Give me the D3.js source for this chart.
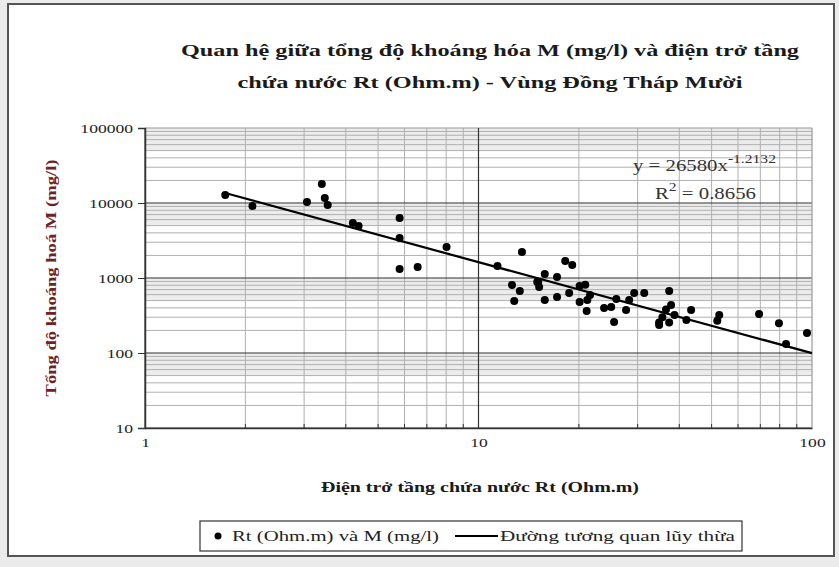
<!DOCTYPE html>
<html>
<head>
<meta charset="utf-8">
<script src="https://cdn.jsdelivr.net/npm/d3@7"></script>
<style>
  body { margin: 0; background: #ebebeb; }
  svg { display: block; }
  svg text { font-family: "Liberation Serif", "DejaVu Serif", serif; }
</style>
</head>
<body>
<svg id="chart" width="839" height="567"></svg>
<script>
// Rt (Ohm.m) values
const rt = [1.74, 2.10, 3.39, 3.06, 3.46, 3.53, 4.20, 4.37, 5.80, 5.80, 8.02, 5.80, 6.57,
  13.5, 11.4, 18.2, 19.1, 12.6, 13.3, 12.8, 15.8, 15.0, 15.2, 15.8, 17.2, 17.2, 18.7,
  20.1, 20.9, 20.1, 21.2, 21.1, 21.6, 15.1, 23.8, 25.0, 25.5, 25.9, 27.7, 28.3, 29.3,
  31.4, 37.3, 34.8, 35.6, 36.5, 37.8, 37.3, 38.7, 43.4, 42.0, 34.8, 52.7, 52.0, 69.4,
  79.6, 96.6, 83.6];
// M (mg/l) values
const mg = [12800, 9100, 17900, 10300, 11700, 9400, 5400, 4940, 6300, 3410, 2590, 1320, 1400,
  2220, 1445, 1690, 1490, 807, 671, 494, 1130, 885, 760, 509, 1030, 558, 631,
  780, 815, 479, 509, 363, 593, 885, 398, 410, 259, 525, 374, 509, 631,
  631, 671, 255, 300, 380, 437, 255, 320, 374, 275, 236, 321, 270, 331,
  250, 185, 132];

const xTicks = [1, 10, 100];
const yTicks = [10, 100, 1000, 10000, 100000];
const fitA = 26580, fitB = -1.2132;
const fitRange = [1.74, 100];

const titleLines = ["Quan hệ giữa tổng độ  khoáng hóa M (mg/l) và điện trở tầng",
                    "chứa nước Rt (Ohm.m) - Vùng Đồng Tháp Mười"];
const xTitle = "Điện trở tầng chứa nước Rt (Ohm.m)";
const yTitle = "Tổng độ khoáng hoá M (mg/l)";
const legendLabels = ["Rt (Ohm.m) và M (mg/l)", "Đường tương quan lũy thừa"];

const svg = d3.select("#chart");
const margin = {top: 128, right: 27, bottom: 139, left: 145};
const W = 839, H = 567;

// outer frame
svg.append("rect")
    .attr("x", 8).attr("y", 4).attr("width", 826).attr("height", 552)
    .attr("fill", "white").attr("stroke", "#555").attr("stroke-width", 2);

const x = d3.scaleLog().domain([1, 100]).range([margin.left, W - margin.right]);
const y = d3.scaleLog().domain([10, 100000]).range([H - margin.bottom, margin.top]);

// minor values for gridlines
let xMinor = [], yMinor = [];
[1, 10].forEach(d => { for (let k = 2; k <= 9; k++) xMinor.push(d * k); });
[10, 100, 1000, 10000].forEach(d => { for (let k = 2; k <= 9; k++) yMinor.push(d * k); });

const grid = svg.append("g");

// faint bands where the minor lines bunch up
grid.selectAll(".band")
  .data([10, 100, 1000, 10000])
  .enter().append("rect")
    .attr("x", x(1)).attr("width", x(100) - x(1))
    .attr("y", d => y(d * 10))
    .attr("height", d => y(d * 5) - y(d * 10))
    .attr("fill", "#ececec");

grid.selectAll(".ym")
  .data(yMinor)
  .enter().append("line")
    .attr("x1", x(1)).attr("x2", x(100))
    .attr("y1", d => y(d)).attr("y2", d => y(d))
    .attr("stroke", "#b0b0b0").attr("stroke-width", 1);

grid.selectAll(".xm")
  .data(xMinor)
  .enter().append("line")
    .attr("y1", y(10)).attr("y2", y(100000))
    .attr("x1", d => x(d)).attr("x2", d => x(d))
    .attr("stroke", "#b0b0b0").attr("stroke-width", 1);

grid.selectAll(".yM")
  .data(yTicks)
  .enter().append("line")
    .attr("x1", x(1)).attr("x2", x(100))
    .attr("y1", d => y(d)).attr("y2", d => y(d))
    .attr("stroke", d => d == 100000 ? "#999" : "#333").attr("stroke-width", 1.2);

grid.selectAll(".xM")
  .data(xTicks)
  .enter().append("line")
    .attr("y1", y(10)).attr("y2", y(100000))
    .attr("x1", d => x(d)).attr("x2", d => x(d))
    .attr("stroke", d => d == 100 ? "#999" : "#333").attr("stroke-width", 1.2);

// axes
const xAxis = d3.axisBottom(x).tickValues(xTicks).tickFormat(d3.format("d")).tickSize(0).tickPadding(10);
const yAxis = d3.axisLeft(y).tickValues(yTicks).tickFormat(d3.format("d")).tickSize(7).tickPadding(5);

const gX = svg.append("g")
    .attr("transform", "translate(0," + y(10) + ")")
    .call(xAxis);
gX.select(".domain").attr("stroke", "#333").attr("stroke-width", 1.5);

const gY = svg.append("g")
    .attr("transform", "translate(" + x(1) + ",0)")
    .call(yAxis);
gY.select(".domain").attr("stroke", "#333").attr("stroke-width", 1.5);
gY.selectAll(".tick line").attr("stroke", "#333");

// small minor ticks on x axis
svg.selectAll(".xmt")
  .data(xMinor)
  .enter().append("line")
    .attr("x1", d => x(d)).attr("x2", d => x(d))
    .attr("y1", y(10)).attr("y2", y(10) - 4)
    .attr("stroke", "#333");

svg.selectAll(".tick text")
    .attr("font-family", null)
    .attr("font-size", 13)
    .attr("fill", "#222");

// stretch tick labels sideways like the reference
svg.selectAll(".tick text").each(function() {
  const w = this.getComputedTextLength();
  d3.select(this).attr("textLength", w * 1.35).attr("lengthAdjust", "spacingAndGlyphs");
});

// trend line
const fit = fitRange.map(v => [v, fitA * Math.pow(v, fitB)]);
svg.append("path")
    .datum(fit)
    .attr("d", d3.line().x(d => x(d[0])).y(d => y(d[1])))
    .attr("stroke", "black").attr("stroke-width", 2.2).attr("fill", "none");

// points
const pts = rt.map((v, i) => ({rt: v, m: mg[i]}));
svg.selectAll(".dot")
  .data(pts)
  .enter().append("circle")
    .attr("cx", d => x(d.rt))
    .attr("cy", d => y(d.m))
    .attr("r", 4)
    .attr("fill", "black");

// equation
const eq = svg.append("text")
    .attr("x", 633).attr("y", 171)
    .attr("font-size", 16).attr("fill", "#333");
eq.append("tspan").text("y = 26580x");
eq.append("tspan").attr("dy", -8).attr("font-size", 12).text("-1.2132");
const r2 = svg.append("text")
    .attr("x", 655).attr("y", 199)
    .attr("font-size", 16).attr("fill", "#333");
r2.append("tspan").text("R");
r2.append("tspan").attr("dy", -8).attr("font-size", 12).text("2");
r2.append("tspan").attr("dy", 8).text(" = 0.8656");
[eq, r2].forEach(t => t.attr("transform", "translate(" + (-t.attr("x") * 0.3) + ",0) scale(1.3,1)"));

// title
svg.selectAll(".title")
  .data(titleLines)
  .enter().append("text")
    .attr("x", 490)
    .attr("y", (d, i) => 56 + i * 32)
    .attr("text-anchor", "middle")
    .attr("font-weight", "bold").attr("font-size", 17)
    .attr("fill", "#1a1a1a")
    .attr("textLength", (d, i) => i == 0 ? 618 : 505)
    .attr("lengthAdjust", "spacingAndGlyphs")
    .text(d => d);

// axis titles
svg.append("text")
    .attr("x", 480).attr("y", 492)
    .attr("text-anchor", "middle")
    .attr("font-weight", "bold").attr("font-size", 14)
    .attr("fill", "#1a1a1a")
    .attr("textLength", 318).attr("lengthAdjust", "spacingAndGlyphs")
    .text(xTitle);

svg.append("text")
    .attr("transform", "translate(56," + y(1000) + ") rotate(-90)")
    .attr("text-anchor", "middle")
    .attr("font-weight", "bold").attr("font-size", 14)
    .attr("fill", "#6e2222")
    .attr("textLength", 237).attr("lengthAdjust", "spacingAndGlyphs")
    .text(yTitle);

// legend
const lg = svg.append("g");
lg.append("rect")
    .attr("x", 200).attr("y", 521).attr("width", 542).attr("height", 30)
    .attr("fill", "white").attr("stroke", "#333").attr("stroke-width", 1.2);
lg.append("circle").attr("cx", 218).attr("cy", 536).attr("r", 3.5).attr("fill", "black");
lg.append("line").attr("x1", 455).attr("x2", 498).attr("y1", 536).attr("y2", 536)
    .attr("stroke", "black").attr("stroke-width", 2.2);
lg.selectAll(".lt")
  .data(legendLabels)
  .enter().append("text")
    .attr("x", (d, i) => i == 0 ? 232 : 500)
    .attr("y", 541)
    .attr("font-size", 14).attr("fill", "#222")
    .attr("textLength", (d, i) => i == 0 ? 207 : 235)
    .attr("lengthAdjust", "spacingAndGlyphs")
    .text(d => d);
</script>
</body>
</html>
